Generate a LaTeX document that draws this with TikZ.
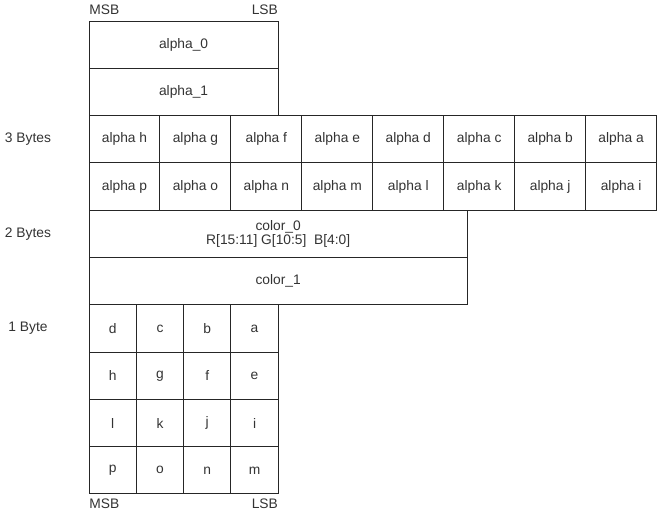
\documentclass[tikz,border=0pt]{standalone}
\usepackage{fontspec}
\setmainfont{Liberation Sans}
\usetikzlibrary{positioning}
\tikzset{
  cell/.style={draw=black!85, line width=0.6pt, anchor=north west,
    minimum height=1cm, inner sep=0pt, outer sep=0pt, align=center,
    text=black!80, font=\fontsize{8.3}{8}\selectfont},
  lbl/.style={text=black!80, inner sep=0pt, font=\fontsize{8.3}{9}\selectfont}
}
\begin{document}
\begin{tikzpicture}
\useasboundingbox (-1.882,0.444) rectangle (12.199,-10.571);
% two alpha bytes
\node[cell, minimum width=4cm] (alphazero) at (0,0) {alpha\_0};
\node[cell, minimum width=4cm] (alphaone) at (0,-1) {alpha\_1};
% 3 bytes: alpha per pixel
\foreach \l [count=\i from 0] in {h,g,f,e,d,c,b,a}
  \node[cell, minimum width=1.5cm] (ahi\i) at (1.5*\i,-2) {alpha \l};
\foreach \l [count=\i from 0] in {p,o,n,m,l,k,j,i}
  \node[cell, minimum width=1.5cm] (alo\i) at (1.5*\i,-3) {alpha \l};
% 2 bytes: colours
\node[cell, minimum width=8cm] (colorzero) at (0,-4) {color\_0\\R[15:11] G[10:5]\ \ B[4:0]};
\node[cell, minimum width=8cm] (colorone) at (0,-5) {color\_1};
% 1 byte
\foreach \r [count=\j from 0] in {{d,c,b,a},{h,g,f,e},{l,k,j,i},{p,o,n,m}}
  \foreach \l [count=\i from 0] in \r
    \node[cell, minimum width=1cm] (bit\j\i) at (\i,-6-\j) {\l};
% labels
\node[lbl, anchor=south west] (msbtop) at (0,0.12) {MSB};
\node[lbl, anchor=south east] (lsbtop) at (4,0.12) {LSB};
\node[lbl, anchor=north west] (msbbot) at (0,-10.1) {MSB};
\node[lbl, anchor=north east] (lsbbot) at (4,-10.1) {LSB};
\node[lbl] (three) at (-1.29,-2.5) {3 Bytes};
\node[lbl] (two) at (-1.29,-4.5) {2 Bytes};
\node[lbl] (one) at (-1.29,-6.5) {1 Byte};
\end{tikzpicture}
\end{document}
